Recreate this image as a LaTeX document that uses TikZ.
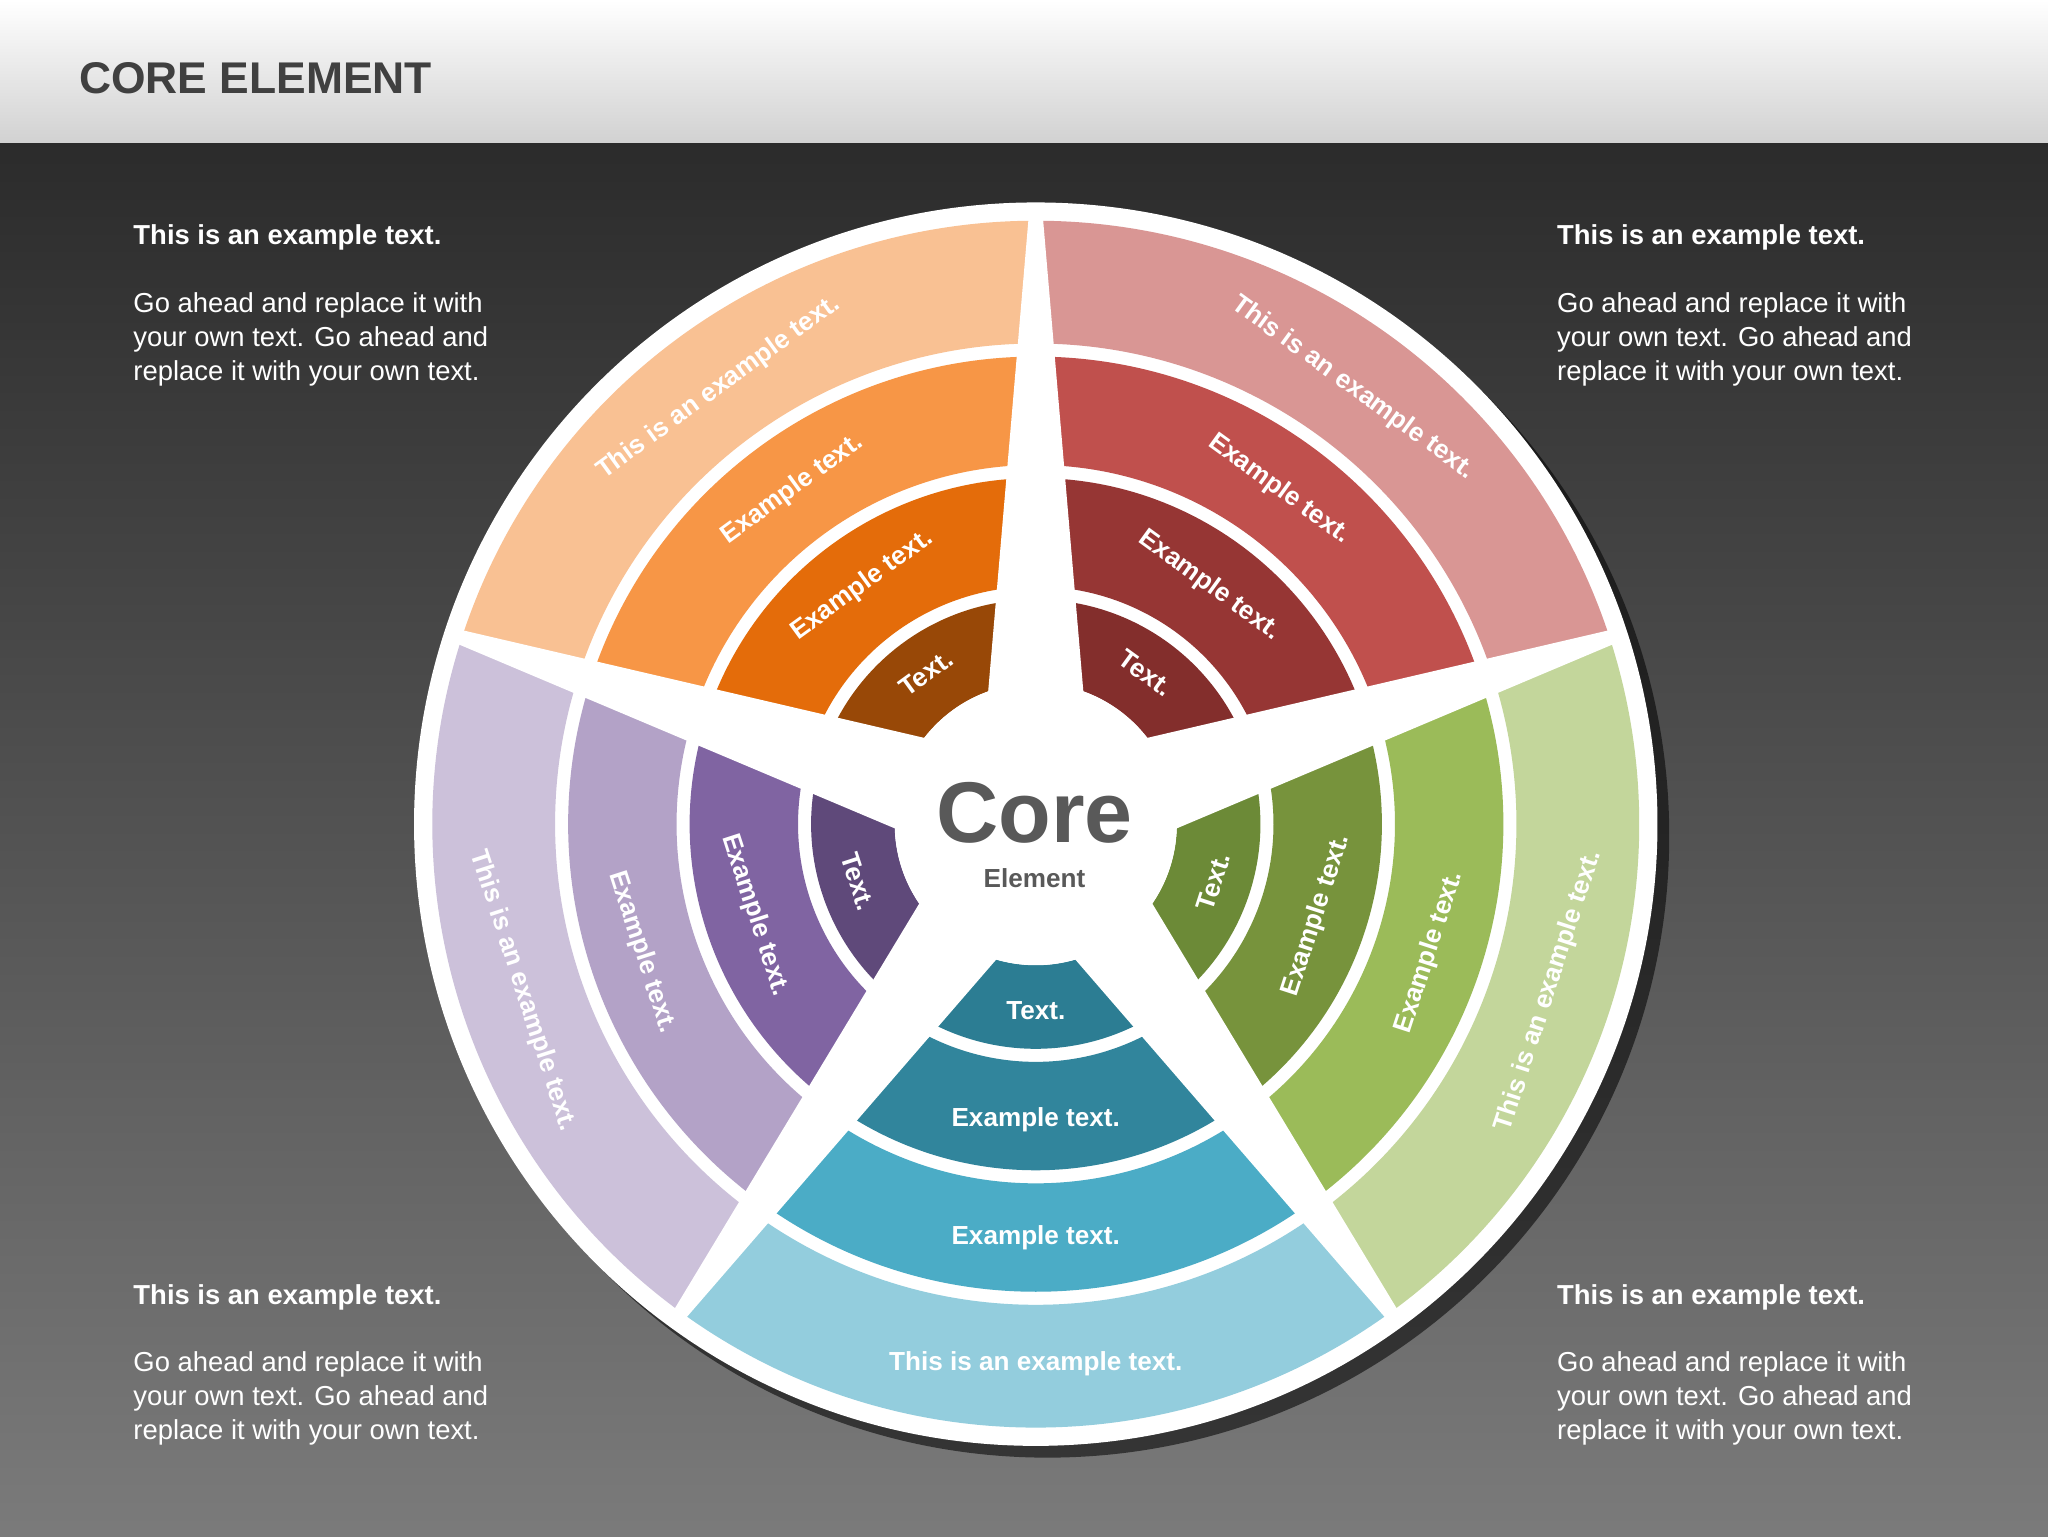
\documentclass[tikz,border=0pt]{standalone}
\usepackage{fontspec}
\setmainfont{Liberation Sans}
\begin{document}
\begin{tikzpicture}[x=1pt,y=1pt,
  seglabel/.style={text=white,font=\bfseries\fontsize{20}{23}\selectfont,inner sep=0pt},
  sidehead/.style={text=white,font=\bfseries\fontsize{21}{26}\selectfont,anchor=north west,inner sep=0pt},
  sidebody/.style={text=white,font=\fontsize{21}{26}\selectfont,anchor=north west,inner sep=0pt,align=left}]
\useasboundingbox (0,0) rectangle (1568,1176);
\shade[top color=white,bottom color=black!18] (0,1066) rectangle (1568,1176);
\shade[top color=black!83,bottom color=black!52] (0,0) rectangle (1568,1066);
\node[anchor=west,text=black!75,font=\bfseries\fontsize{34}{37}\selectfont] (title) at (57,1116) {CORE ELEMENT};
\coordinate (C) at (793,545);
\fill[black,opacity=0.55] ([shift={(9,-9)}]C) circle[radius=476];
\fill[white] (C) circle[radius=476];
\foreach \c/\ca/\cb/\cc/\cd/\rot in {126/F9C193/F79646/E46C0A/984807/36,
  54/D99694/C0504D/963634/832E2C/-36,
  342/C3D69B/9BBB59/77933C/6C8A37/72,
  270/93CDDD/4BACC6/31859C/2C7D93/0,
  198/CCC1DA/B3A2C7/8064A2/5F497A/-72}{
  \definecolor{ka}{HTML}{\ca}\definecolor{kb}{HTML}{\cb}
  \definecolor{kc}{HTML}{\cc}\definecolor{kd}{HTML}{\cd}
  \foreach \ri/\ro/\col in {368/462/ka,275/358/kb,182/265/kc,108/172/kd}{
    \fill[\col,shift={(C)}] (\c-36:\ri) arc[start angle=\c-36,end angle=\c+36,radius=\ri]
      -- (\c+36:\ro) arc[start angle=\c+36,end angle=\c-36,radius=\ro] -- cycle;
  }
  \node[seglabel,rotate=\rot] (o\c) at ([shift={(\c:413)}]C) {This is an example text.};
  \node[seglabel,rotate=\rot] (b\c) at ([shift={(\c:317)}]C) {Example text.};
  \node[seglabel,rotate=\rot] (c\c) at ([shift={(\c:226)}]C) {Example text.};
  \node[seglabel,rotate=\rot] (d\c) at ([shift={(\c:143)}]C) {Text.};
}
\foreach \a in {90,162,234,306,18}{
  \fill[white,shift={(C)},rotate=\a] (95,-37) -- (470,-5) -- (470,5) -- (95,37) -- cycle;
}
\fill[white] (C) circle[radius=108];
\node[text=black!65,font=\bfseries\fontsize{66}{70}\selectfont] (core) at (792,554) {Core};
\node[text=black!65,font=\bfseries\fontsize{20}{24}\selectfont] (elem) at (792,504) {Element};
\foreach \x/\y/\n in {102/1004/a,1192/1004/b,102/193/c,1192/193/d}{
  \node[sidehead] (h\n) at (\x,\y) {This is an example text.};
  \node[sidebody] (t\n) at (\x,\y-52) {Go ahead and replace it with\\your own text. Go ahead and\\replace it with your own text.};
}
\end{tikzpicture}
\end{document}
